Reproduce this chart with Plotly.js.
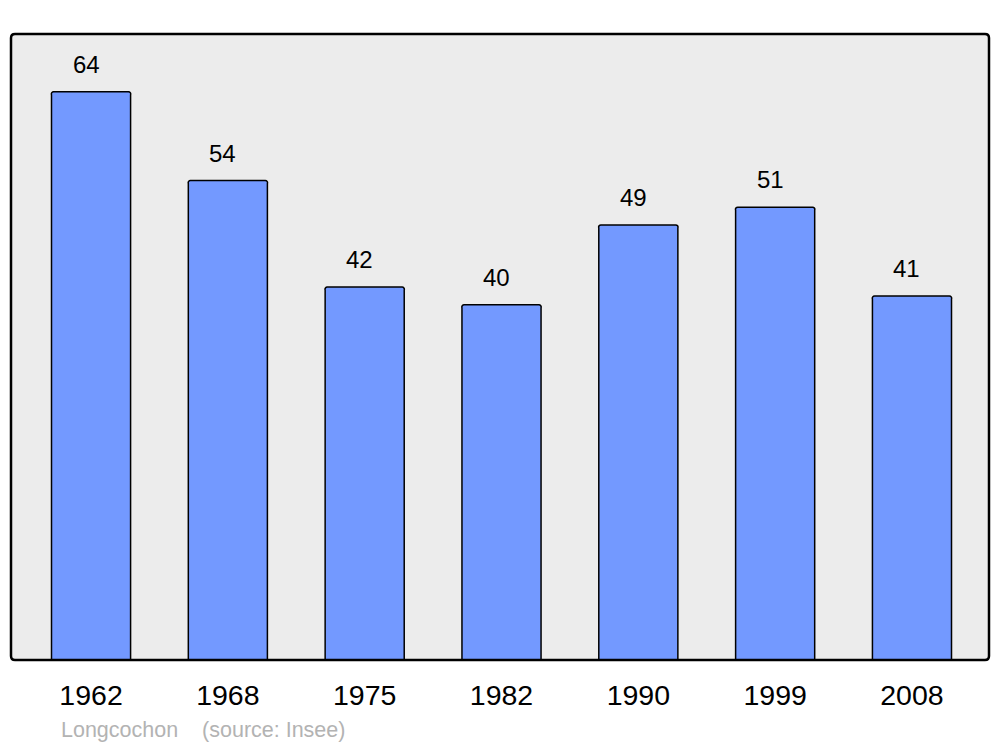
<!DOCTYPE html>
<html>
<head>
<meta charset="utf-8">
<script src="https://cdn.plot.ly/plotly-3.0.1.min.js"></script>
<style>html,body{margin:0;padding:0;background:#fff;}#chart{width:1000px;height:747px;}</style>
</head>
<body>
<div id="chart"></div>
<script>
const years = ["1962", "1968", "1975", "1982", "1990", "1999", "2008"];
const population = [64, 54, 42, 40, 49, 51, 41];
const captionText = "Longcochon &nbsp;&nbsp; (source: Insee)";

const W = 978, H = 626;
const rx = 4 / W, ry = 4 / H;
const borderPath = `M ${rx},0 L ${1 - rx},0 Q 1,0 1,${ry} L 1,${1 - ry} Q 1,1 ${1 - rx},1 L ${rx},1 Q 0,1 0,${1 - ry} L 0,${ry} Q 0,0 ${rx},0 Z`;

const trace = {
  type: "bar",
  x: years,
  y: population,
  width: 0.578,
  marker: { color: "#7399ff", line: { color: "#000", width: 1.5 }, cornerradius: 3 },
  hoverinfo: "x+y"
};

const annotations = years.map((yr, i) => ({
  x: i, y: population[i], xref: "x", yref: "y",
  text: String(population[i]), showarrow: false,
  yanchor: "bottom", yshift: 12, xshift: -5,
  font: { family: "Liberation Sans, Arial, sans-serif", size: 24, color: "#000" }
}));
annotations.push({
  xref: "paper", yref: "paper", x: 48 / W, y: -70 / H,
  xanchor: "left", yanchor: "middle", showarrow: false,
  text: captionText,
  font: { family: "Liberation Sans, Arial, sans-serif", size: 21.5, color: "#b3b3b3" }
});

const layout = {
  width: 1000, height: 747,
  margin: { l: 11, r: 11, t: 34, b: 87, pad: 0 },
  paper_bgcolor: "#fff",
  plot_bgcolor: "#ececec",
  showlegend: false,
  bargap: 0,
  xaxis: {
    type: "category",
    range: [-0.585, 6.563],
    showgrid: false, zeroline: false, showline: false,
    ticks: "", ticklabelstandoff: 15,
    tickfont: { family: "Liberation Sans, Arial, sans-serif", size: 28.5, color: "#000" },
    fixedrange: true
  },
  yaxis: {
    range: [0, 70.5],
    showgrid: false, zeroline: false, showline: false,
    showticklabels: false, ticks: "",
    fixedrange: true
  },
  annotations: annotations,
  shapes: [{
    type: "path", xref: "paper", yref: "paper",
    path: borderPath,
    line: { color: "#000", width: 2.5 },
    fillcolor: "rgba(0,0,0,0)",
    layer: "above"
  }]
};

Plotly.newPlot("chart", [trace], layout, { displayModeBar: false, staticPlot: true });
</script>
</body>
</html>
